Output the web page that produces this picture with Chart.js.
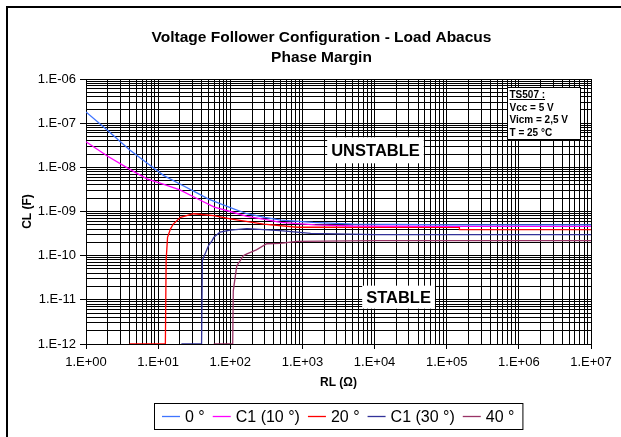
<!DOCTYPE html>
<html>
<head>
<meta charset="utf-8">
<script src="https://cdn.jsdelivr.net/npm/chart.js@4.4.1/dist/chart.umd.min.js"></script>
<style>
html, body { margin: 0; padding: 0; background: #fff; }
#wrap { position: relative; width: 621px; height: 437px; overflow: hidden; }
</style>
</head>
<body>
<div id="wrap"><canvas id="abacus" width="621" height="437"></canvas></div>
<script>
// RL (ohm) and CL (F)
const rl0 = [1, 2, 4, 7, 12, 20, 35, 50, 100, 170, 300, 500, 1400, 5000, 20000, 1e5, 1e7];
const cl0 = [1.8e-7, 6.8e-8, 2.5e-8, 1.26e-8, 6.5e-9, 4.2e-9, 2.6e-9, 1.9e-9, 1.23e-9, 8.9e-10, 7.4e-10, 6.4e-10, 5.7e-10, 5.2e-10, 5.1e-10, 5.0e-10, 5.0e-10];

const rl1 = [1, 2, 4, 7, 12, 20, 35, 60, 100, 170, 300, 500, 1500, 5000, 1e5, 1e7];
const cl1 = [3.8e-8, 1.78e-8, 9.1e-9, 5.5e-9, 4.1e-9, 3.1e-9, 1.94e-9, 1.26e-9, 1.0e-9, 7.8e-10, 6.6e-10, 5.7e-10, 5.0e-10, 4.7e-10, 4.6e-10, 4.6e-10];

const rl2 = [4, 12.6, 12.9, 13.5, 14.8, 16.2, 20.4, 31, 59, 100, 290, 850, 1.5e5, 1.5e5, 1e7];
const cl2 = [1e-12, 1e-12, 7.8e-11, 2.6e-10, 4.0e-10, 5.2e-10, 7.4e-10, 8.9e-10, 8.1e-10, 6.8e-10, 5.2e-10, 4.4e-10, 4.4e-10, 3.9e-10, 3.9e-10];

const rl3 = [21, 40, 41, 43.6, 50, 56, 59, 72, 100, 170, 490, 1300, 1e4, 1e7];
const cl3 = [1e-12, 1e-12, 7.8e-11, 1e-10, 1.7e-10, 2.2e-10, 2.6e-10, 3.4e-10, 3.8e-10, 4.1e-10, 3.7e-10, 3.2e-10, 3.0e-10, 3.0e-10];

const rl4 = [59, 108, 110, 123, 138, 151, 170, 230, 320, 490, 850, 1e4, 1e7];
const cl4 = [1e-12, 1e-12, 1.6e-11, 5.9e-11, 7.8e-11, 1e-10, 1.1e-10, 1.35e-10, 1.86e-10, 1.9e-10, 2.1e-10, 2.2e-10, 2.2e-10];

const seriesNames = ['0 °', 'C1 (10 °)', '20 °', 'C1 (30 °)', '40 °'];
const seriesColors = ['#3f74ff', '#ff00ff', '#ff0000', '#333399', '#993366'];

const xTickLabels = ['1.E+00', '1.E+01', '1.E+02', '1.E+03', '1.E+04', '1.E+05', '1.E+06', '1.E+07'];
const yTickLabels = ['1.E-12', '1.E-11', '1.E-10', '1.E-09', '1.E-08', '1.E-07', '1.E-06'];

const titleLines = ['Voltage Follower Configuration - Load Abacus', 'Phase Margin'];
const infoLines = ['TS507 :', 'Vcc = 5 V', 'Vicm = 2,5 V', 'T = 25 °C'];
const zoneNotes = [
	{ text: 'UNSTABLE', r: 1.03e4, c: 2.43e-8, h: 26 },
	{ text: 'STABLE', r: 2.15e4, c: 1.15e-11, h: 23 }
];

const FONT = '"Liberation Sans", Arial, sans-serif';
const allR = [rl0, rl1, rl2, rl3, rl4];
const allC = [cl0, cl1, cl2, cl3, cl4];

const isDecade = v => Math.abs(Math.log10(v) - Math.round(Math.log10(v))) < 1e-6;
// grid lines at 1..9 x 10^e
function logTicks(lo, hi) {
	const t = [];
	for (let e = lo; e < hi; e++) {
		for (let m = 1; m < 10; m++) t.push({ value: m * Math.pow(10, e) });
	}
	t.push({ value: Math.pow(10, hi) });
	return t;
}

const decor = {
	id: 'decor',
	beforeDraw(chart) {
		const c = chart.ctx;
		c.save();
		c.fillStyle = '#fff';
		c.fillRect(0, 0, chart.width, chart.height);
		c.fillStyle = '#000';
		c.fillRect(6, 6, chart.width - 6, 2);
		c.fillRect(6, 6, 2, chart.height - 6);
		c.restore();
	},
	afterDatasetsDraw(chart) {
		const c = chart.ctx;
		const x = chart.scales.x, y = chart.scales.y;
		c.save();
		// zone labels
		c.font = 'bold 16.5px ' + FONT;
		c.textAlign = 'center';
		c.textBaseline = 'middle';
		zoneNotes.forEach(n => {
			const px = x.getPixelForValue(n.r), py = y.getPixelForValue(n.c);
			const w = c.measureText(n.text).width + 8;
			c.fillStyle = '#fff';
			c.fillRect(px - w / 2, py - n.h / 2, w, n.h);
			c.fillStyle = '#000';
			c.fillText(n.text, px, py + 1);
		});
		// conditions box
		const bx = Math.round(x.getPixelForValue(6.8e5)), by = Math.round(y.getPixelForValue(6.6e-7));
		c.fillStyle = '#fff';
		c.fillRect(bx, by, 73, 52);
		c.strokeStyle = '#000';
		c.lineWidth = 1;
		c.strokeRect(bx + 0.5, by + 0.5, 73, 52);
		c.font = 'bold 10px ' + FONT;
		c.textAlign = 'left';
		c.textBaseline = 'alphabetic';
		c.fillStyle = '#000';
		infoLines.forEach((t, i) => {
			const ty = by + 11 + i * 12.7;
			c.fillText(t, bx + 2.5, ty);
			if (i === 0) c.fillRect(bx + 2.5, ty + 1, c.measureText(t).width, 1);
		});
		c.restore();
	},
	afterDraw(chart) {
		const c = chart.ctx;
		const area = chart.chartArea;
		c.save();
		c.fillStyle = '#000';
		c.textAlign = 'center';
		c.textBaseline = 'middle';
		c.font = 'bold 15.5px ' + FONT;
		titleLines.forEach((t, i) => c.fillText(t, 321.5, 38 + i * 20));

		// legend with frame
		c.font = '16px ' + FONT;
		const sample = 18, gapIn = 5, gapOut = 8;
		const ds = chart.data.datasets;
		let total = 0;
		ds.forEach((d, i) => {
			total += sample + gapIn + c.measureText(d.label).width + (i < ds.length - 1 ? gapOut : 0);
		});
		const boxW = total + 16, boxH = 26;
		const left = Math.round((area.left + area.right) / 2 - boxW / 2), top = 403;
		c.strokeStyle = '#000';
		c.lineWidth = 1;
		c.strokeRect(left + 0.5, top + 0.5, boxW, boxH);
		let px = left + 8;
		const cy = top + boxH / 2 + 0.5;
		c.textAlign = 'left';
		ds.forEach(d => {
			c.strokeStyle = d.borderColor;
			c.lineWidth = 1.3;
			c.beginPath();
			c.moveTo(px, cy);
			c.lineTo(px + sample, cy);
			c.stroke();
			px += sample + gapIn;
			c.fillStyle = '#000';
			c.fillText(d.label, px, cy + 1);
			px += c.measureText(d.label).width + gapOut;
		});
		c.restore();
	}
};

const datasets = seriesNames.map((name, i) => ({
	label: name,
	data: allR[i].map((r, k) => ({ x: r, y: allC[i][k] })),
	borderColor: seriesColors[i],
	backgroundColor: seriesColors[i],
	borderWidth: 1.3,
	showLine: true,
	pointRadius: 0,
	tension: 0,
	fill: false
}));

new Chart(document.getElementById('abacus'), {
	type: 'scatter',
	data: { datasets: datasets },
	options: {
		responsive: false,
		animation: false,
		devicePixelRatio: 1,
		layout: { padding: { top: 79, right: 30, bottom: 0, left: 0 } },
		plugins: {
			legend: { display: false },
			title: { display: false },
			tooltip: { enabled: false }
		},
		scales: {
			x: {
				type: 'logarithmic',
				min: 1,
				max: 1e7,
				afterBuildTicks: s => { s.ticks = logTicks(0, 7); },
				afterFit: s => { s.height = 93; },
				ticks: {
					autoSkip: false,
					maxRotation: 0,
					minRotation: 0,
					padding: 6,
					color: '#000',
					font: { family: FONT, size: 13 },
					callback: v => isDecade(v) ? xTickLabels[Math.round(Math.log10(v))] : ''
				},
				grid: {
					color: '#000',
					lineWidth: 1,
					tickLength: 5,
					tickColor: ctx => ctx.tick && isDecade(ctx.tick.value) ? '#000' : 'rgba(0,0,0,0)'
				},
				border: { color: '#000', width: 1 },
				title: {
					display: true,
					text: 'RL (Ω)',
					color: '#000',
					font: { family: FONT, size: 12, weight: 'bold' },
					padding: { top: 0, bottom: 47 }
				}
			},
			y: {
				type: 'logarithmic',
				min: 1e-12,
				max: 1e-6,
				afterBuildTicks: s => { s.ticks = logTicks(-12, -6); },
				afterFit: s => { s.width = 86; },
				ticks: {
					autoSkip: false,
					padding: 4,
					color: '#000',
					font: { family: FONT, size: 13 },
					callback: v => isDecade(v) ? yTickLabels[Math.round(Math.log10(v)) + 12] : ''
				},
				grid: {
					color: '#000',
					lineWidth: 1,
					tickLength: 6,
					tickColor: ctx => ctx.tick && isDecade(ctx.tick.value) ? '#000' : 'rgba(0,0,0,0)'
				},
				border: { color: '#000', width: 1 },
				title: {
					display: true,
					text: 'CL (F)',
					color: '#000',
					font: { family: FONT, size: 12, weight: 'bold' },
					padding: { top: 20, bottom: 0 }
				}
			}
		}
	},
	plugins: [decor]
});
</script>
</body>
</html>
